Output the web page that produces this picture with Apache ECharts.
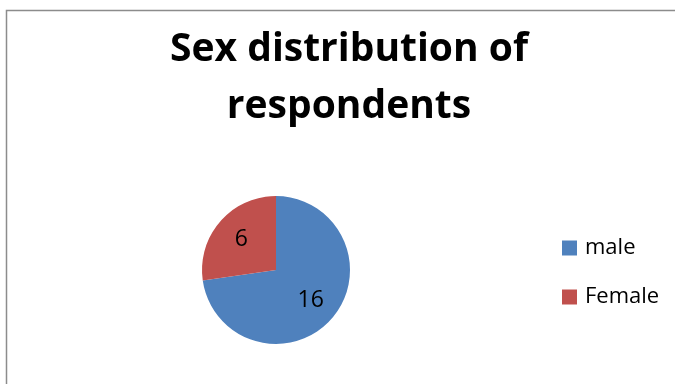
<!DOCTYPE html>
<html>
<head>
<meta charset="utf-8">
<script src="https://cdn.jsdelivr.net/npm/echarts@6/dist/echarts.min.js"></script>
<style>
html,body{margin:0;padding:0;background:#fff;}
#main{width:675px;height:384px;}
</style>
</head>
<body>
<div id="main"></div>
<script>
const titleText = 'Sex distribution of\nrespondents';
const categories = ['male', 'Female'];
const values = [16, 6];
const colors = ['#4F81BD', '#C0504D'];

const chart = echarts.init(document.getElementById('main'), null, {renderer: 'canvas'});
const pieData = categories.map((c, i) => ({name: c, value: values[i], itemStyle: {color: colors[i]}}));

chart.setOption({
  animation: false,
  graphic: [{
    type: 'rect',
    shape: {x: 6.5, y: 10.5, width: 700, height: 400},
    style: {fill: 'none', stroke: '#8c8c8c', lineWidth: 1.5},
    silent: true
  }],
  title: {
    text: titleText,
    left: 344,
    textAlign: 'center',
    top: 16,
    textStyle: {fontFamily: 'Open Sans', fontWeight: 'bold', fontSize: 39, lineHeight: 57, color: '#000'}
  },
  legend: {
    orient: 'vertical',
    left: 557,
    top: 232,
    itemWidth: 15,
    itemHeight: 15,
    itemGap: 27,
    icon: 'rect',
    textStyle: {fontFamily: 'Open Sans', fontSize: 22, color: '#000', padding: [0, 0, 0, 3]},
    data: categories
  },
  series: [{
    type: 'pie',
    center: [276, 270],
    radius: 74,
    startAngle: 90,
    clockwise: true,
    data: pieData,
    label: {show: false},
    labelLine: {show: false},
    emphasis: {disabled: true},
    itemStyle: {borderColor: '#fff', borderWidth: 0}
  }, {
    type: 'pie',
    center: [276, 270],
    radius: 86,
    startAngle: 90,
    clockwise: true,
    silent: true,
    legendHoverLink: false,
    data: pieData.map(d => ({name: d.name, value: d.value, itemStyle: {color: 'rgba(0,0,0,0)'}})),
    label: {show: true, position: 'inside', formatter: '{c}', fontFamily: 'Open Sans', fontSize: 23, color: '#000'},
    labelLine: {show: false},
    emphasis: {disabled: true}
  }]
});
</script>
</body>
</html>
